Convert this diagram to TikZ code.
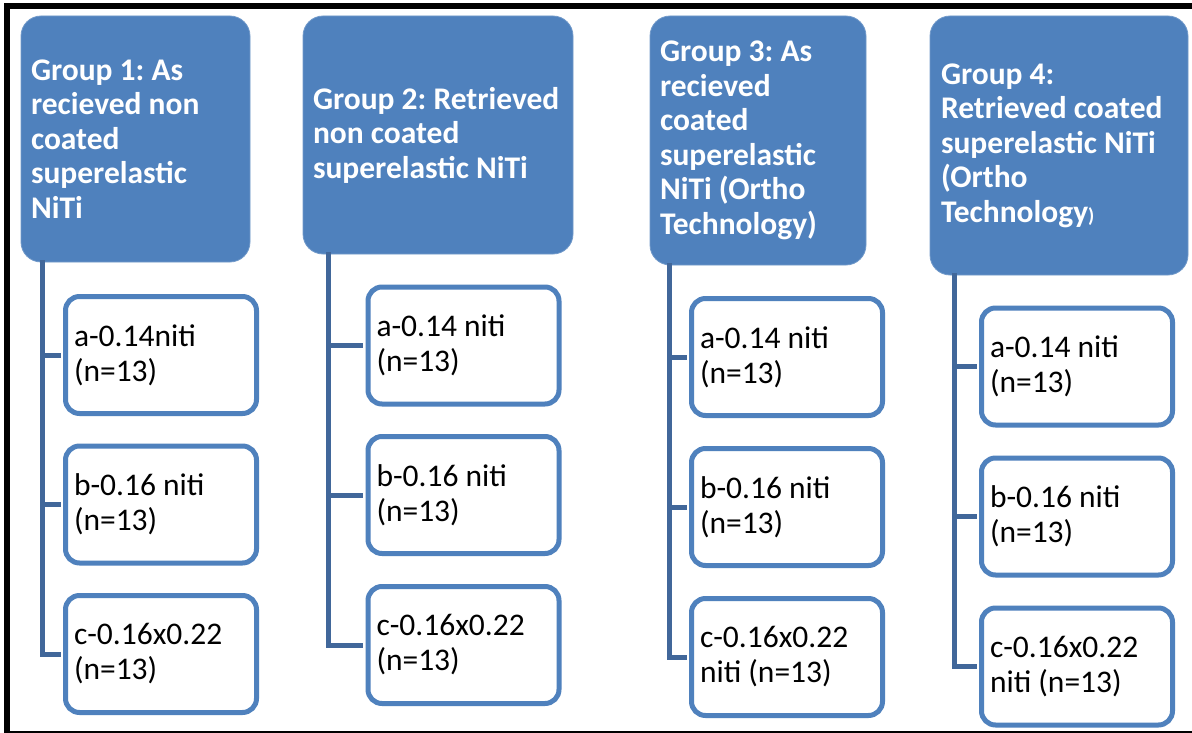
\documentclass[tikz,border=0pt]{standalone}
\usepackage{fontspec}
\setmainfont{Carlito}
\frenchspacing
\definecolor{hdr}{HTML}{4F81BD}
\definecolor{subb}{HTML}{4F81BD}
\definecolor{conn}{HTML}{41679A}
\begin{document}
\begin{tikzpicture}[x=1pt,y=-1pt,
  hdrbox/.style={rectangle, rounded corners=20pt, fill=hdr, draw=hdr!80!white, line width=0.8pt,
    text=white, font=\bfseries\fontsize{31.5}{34.5}\selectfont\frenchspacing, align=flush left,
    inner xsep=10pt, inner ysep=0pt},
  subbox/.style={rectangle, rounded corners=14pt, draw=subb, line width=5pt, fill=white,
    font=\fontsize{31.5}{35}\selectfont\frenchspacing, align=flush left, inner xsep=8.5pt, inner ysep=0pt,
    minimum width=191pt, minimum height=117pt, text width=174pt},
  connline/.style={draw=conn, line width=5pt}]
\useasboundingbox (0,0) rectangle (1192,733);
\fill[white] (0,0) rectangle (1192,733);
% frame
\fill[black] (4,3) rectangle (1192,9);
\fill[black] (4,3) rectangle (10,733);
\fill[black] (9,731) rectangle (1192,733);
% headers
\node[hdrbox, minimum width=229pt, minimum height=246pt, text width=209pt] (g1) at (135.5,139)
  {Group 1: As\\recieved non\\coated\\superelastic\\NiTi};
\node[hdrbox, minimum width=270pt, minimum height=238pt, text width=250pt] (g2) at (438,135)
  {Group 2: Retrieved\\non coated\\superelastic NiTi};
\node[hdrbox, minimum width=216pt, minimum height=249pt, text width=196pt] (g3) at (758,140.5)
  {Group 3: As\\recieved\\coated\\superelastic\\NiTi (Ortho\\Technology)};
\node[hdrbox, minimum width=258pt, minimum height=259pt, text width=236pt, inner xsep=11pt] (g4) at (1059,145.5)
  {Group 4:\\Retrieved coated\\superelastic NiTi\\(Ortho\\Technology{\fontsize{20}{20}\selectfont)}};
% trunks
\coordinate (t1) at (42,0);
\coordinate (t2) at (328,0);
\coordinate (t3) at (669,0);
\coordinate (t4) at (954,0);
% group 1 items
\node[subbox] (g1a) at (161,355) {a-0.14niti\\(n=13)};
\node[subbox] (g1b) at (161,504.5) {b-0.16 niti\\(n=13)};
\node[subbox] (g1c) at (161,654) {c-0.16x0.22\\(n=13)};
% group 2 items
\node[subbox] (g2a) at (463.5,345.5) {a-0.14 niti\\(n=13)};
\node[subbox] (g2b) at (463.5,495) {b-0.16 niti\\(n=13)};
\node[subbox] (g2c) at (463.5,645) {c-0.16x0.22\\(n=13)};
% group 3 items
\node[subbox] (g3a) at (787,357) {a-0.14 niti\\(n=13)};
\node[subbox] (g3b) at (787,507) {b-0.16 niti\\(n=13)};
\node[subbox] (g3c) at (787,657) {c-0.16x0.22\\niti (n=13)};
% group 4 items
\node[subbox] (g4a) at (1077,366.5) {a-0.14 niti\\(n=13)};
\node[subbox] (g4b) at (1077,516.5) {b-0.16 niti\\(n=13)};
\node[subbox] (g4c) at (1077,666.5) {c-0.16x0.22\\niti (n=13)};
% connectors
\foreach \g in {1,2,3,4}{
  \draw[connline] ([yshift=2pt]g\g.south -| t\g) |- ([xshift=-2.5pt]g\g c.west);
  \draw[connline] (g\g a.west -| t\g) -- ([xshift=-2.5pt]g\g a.west);
  \draw[connline] (g\g b.west -| t\g) -- ([xshift=-2.5pt]g\g b.west);
}
\end{tikzpicture}
\end{document}
